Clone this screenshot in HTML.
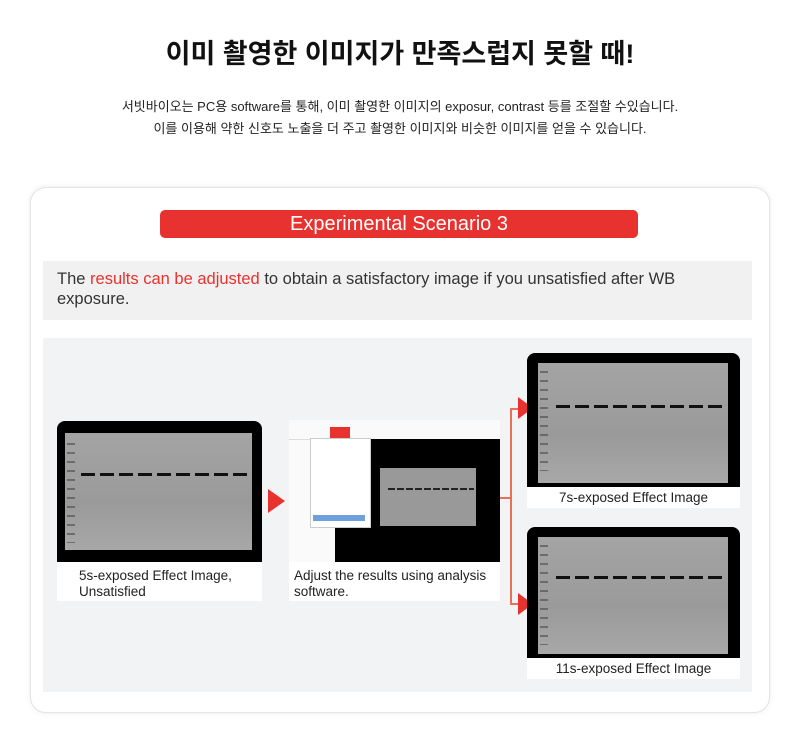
<!DOCTYPE html>
<html><head><meta charset="utf-8"><style>
body{margin:0;width:800px;height:730px;background:#fff;font-family:"Liberation Sans","Noto Sans CJK KR",sans-serif;position:relative;overflow:hidden}
.a{position:absolute}
.gel{position:absolute;background:#000;border-radius:8px 8px 0 0}
.gel .in{position:absolute;background:linear-gradient(#a4a4a4,#9a9a9a 60%,#a8a8a8)}
.band{position:absolute;height:3px;background:repeating-linear-gradient(90deg,#111 0 14px,transparent 14px 19px)}
.lad{position:absolute;width:8px;background:repeating-linear-gradient(#555 0 2px,transparent 2px 9px);opacity:.7}
.cap{position:absolute;background:#fff;color:#222;font-size:13.5px;line-height:16px}
</style></head><body>
<div class="a" style="left:0;width:800px;top:32px;text-align:center;font-size:27px;font-weight:bold;color:#111">이미 촬영한 이미지가 만족스럽지 못할 때!</div>
<div class="a" style="left:0;width:800px;top:96px;text-align:center;font-size:13px;line-height:22px;color:#222">서빗바이오는 PC용 software를 통해, 이미 촬영한 이미지의 exposur, contrast 등를 조절할 수있습니다.<br>이를 이용해 약한 신호도 노출을 더 주고 촬영한 이미지와 비슷한 이미지를 얻을 수 있습니다.</div>
<div class="a" style="left:30px;top:187px;width:738px;height:524px;border:1px solid #e4e4e4;border-radius:16px;box-shadow:0 0 6px rgba(0,0,0,.08)"></div>
<div class="a" style="left:160px;top:210px;width:478px;height:28px;background:#e8322f;border-radius:5px;color:#fff;font-size:20px;line-height:28px;text-align:center">Experimental Scenario 3</div>
<div class="a" style="left:43px;top:261px;width:709px;height:59px;background:#f1f1f1"></div>
<div class="a" style="left:57px;top:269px;width:690px;font-size:16.5px;line-height:20px;color:#333">The <span style="color:#e8322f">results can be adjusted</span> to obtain a satisfactory image if you unsatisfied after WB exposure.</div>
<div class="a" style="left:43px;top:338px;width:709px;height:354px;background:#f2f3f5"></div>

<div class="gel" style="left:57px;top:421px;width:205px;height:141px"><div class="in" style="left:8px;top:12px;width:187px;height:117px"><div class="lad" style="left:2px;top:10px;height:100px"></div><div class="band" style="left:16px;top:40px;width:168px"></div></div></div>
<div class="cap" style="left:57px;top:562px;width:205px;height:39px;padding:6px 0 0 22px;box-sizing:border-box">5s-exposed Effect Image,<br>Unsatisfied</div>
<div class="a" style="left:268px;top:489px;width:0;height:0;border-top:12px solid transparent;border-bottom:12px solid transparent;border-left:17px solid #e8322f"></div>

<div class="a" style="left:289px;top:420px;width:211px;height:142px;background:#fafafa"></div>
<div class="a" style="left:289px;top:427px;width:211px;height:12px;border-bottom:1px solid #ddd"></div>
<div class="a" style="left:330px;top:427px;width:20px;height:12px;background:#e8322f"></div>
<div class="a" style="left:335px;top:439px;width:165px;height:123px;background:#000"></div>
<div class="a" style="left:310px;top:438px;width:59px;height:88px;background:#fff;border:1px solid #ccc"></div>
<div class="a" style="left:313px;top:515px;width:52px;height:6px;background:#6fa0dd"></div>
<div class="a" style="left:380px;top:468px;width:96px;height:58px;background:#999"><div class="band" style="left:8px;top:20px;width:86px;height:2px;background:repeating-linear-gradient(90deg,#222 0 7px,transparent 7px 9px)"></div></div>
<div class="cap" style="left:289px;top:562px;width:211px;height:39px;padding:6px 0 0 5px;box-sizing:border-box">Adjust the results using analysis<br>software.</div>

<div class="a" style="left:500px;top:497px;width:11px;height:2px;background:#e8705a"></div>
<div class="a" style="left:510px;top:408px;width:2px;height:197px;background:#e8705a"></div>
<div class="a" style="left:510px;top:408px;width:12px;height:2px;background:#e8705a"></div>
<div class="a" style="left:510px;top:603px;width:12px;height:2px;background:#e8705a"></div>
<div class="a" style="left:518px;top:397px;border-top:11px solid transparent;border-bottom:11px solid transparent;border-left:15px solid #e8322f"></div>
<div class="a" style="left:518px;top:593px;border-top:11px solid transparent;border-bottom:11px solid transparent;border-left:15px solid #e8322f"></div>

<div class="gel" style="left:527px;top:353px;width:213px;height:134px"><div class="in" style="left:11px;top:10px;width:190px;height:120px"><div class="lad" style="left:2px;top:8px;height:100px"></div><div class="band" style="left:18px;top:42px;width:168px"></div></div></div>
<div class="cap" style="left:527px;top:487px;width:213px;height:21px;text-align:center;line-height:22px">7s-exposed Effect Image</div>
<div class="gel" style="left:527px;top:527px;width:213px;height:131px"><div class="in" style="left:11px;top:10px;width:190px;height:117px"><div class="lad" style="left:2px;top:8px;height:100px"></div><div class="band" style="left:18px;top:39px;width:168px"></div></div></div>
<div class="cap" style="left:527px;top:658px;width:213px;height:21px;text-align:center;line-height:22px">11s-exposed Effect Image</div>
</body></html>
